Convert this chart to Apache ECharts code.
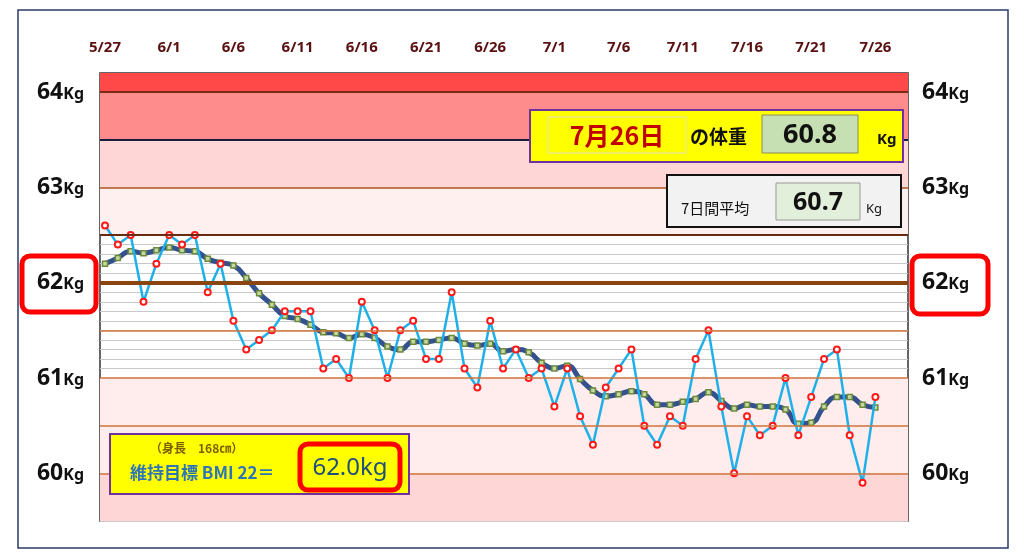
<!DOCTYPE html>
<html><head><meta charset="utf-8">
<script src="https://cdn.jsdelivr.net/npm/echarts@6/dist/echarts.min.js"></script>
<style>html,body{margin:0;padding:0;background:#fff}#c{width:1024px;height:559px}</style>
</head><body><div id="c"></div>
<script>
const dateLabels = ['5/27','6/1','6/6','6/11','6/16','6/21','6/26','7/1','7/6','7/11','7/16','7/21','7/26'];
const weights = [62.6,62.4,62.5,61.8,62.2,62.5,62.4,62.5,61.9,62.2,61.6,61.3,61.4,61.5,61.7,61.7,61.7,61.1,61.2,61.0,61.8,61.5,61.0,61.5,61.6,61.2,61.2,61.9,61.1,60.9,61.6,61.1,61.3,61.0,61.1,60.7,61.1,60.6,60.3,60.9,61.1,61.3,60.5,60.3,60.6,60.5,61.2,61.5,60.7,60.0,60.6,60.4,60.5,61.0,60.4,60.8,61.2,61.3,60.4,59.9,60.8];
const avg7 = [62.2,62.26,62.33,62.31,62.34,62.37,62.34,62.33,62.25,62.21,62.18,62.05,61.89,61.77,61.65,61.62,61.56,61.48,61.47,61.42,61.46,61.42,61.33,61.30,61.38,61.38,61.40,61.42,61.36,61.34,61.36,61.28,61.30,61.27,61.16,61.10,61.13,60.99,60.87,60.81,60.83,60.86,60.83,60.72,60.72,60.75,60.78,60.85,60.76,60.68,60.72,60.70,60.70,60.67,60.52,60.53,60.70,60.80,60.80,60.72,60.69];
const yTicks = [60,61,62,63,64];

const chart = echarts.init(document.getElementById('c'));
const rawData = weights.map((v,i)=>[i,v]);
const avgData = avg7.map((v,i)=>[i,v]);
const ylab = {formatter:v=>'{a|'+v+'}{b|Kg}', rich:{a:{fontSize:23,fontWeight:'bold',color:'#111',fontFamily:'Noto Sans'},b:{fontSize:16,fontWeight:'bold',color:'#111',fontFamily:'Noto Sans',padding:[4,0,0,0]}}};
const band = (a,b,c)=>[{yAxis:a,itemStyle:{color:c}},{yAxis:b}];
const ml = (v,c,w)=>({yAxis:v,lineStyle:{color:c,width:w,type:'solid'}});
const G = (o)=>Object.assign({z:100},o);
chart.setOption({
  animation:false,
  grid:{left:100,right:116,top:73,bottom:38,show:true,borderColor:'#333',borderWidth:1.5,backgroundColor:'transparent'},
  xAxis:{type:'value',min:-0.39,max:62.54,position:'top',splitLine:{show:false},axisLine:{show:false},axisTick:{show:false},
    axisLabel:{customValues:[0,5,10,15,20,25,30,35,40,45,50,55,60],formatter:v=>dateLabels[Math.round(v/5)],color:'#5a1010',fontSize:15,fontWeight:'bold',margin:18,fontFamily:'Noto Sans'}},
  yAxis:[
    {type:'value',min:59.5,max:64.2,interval:0.1,position:'left',axisLine:{show:false},axisTick:{show:false},
      splitLine:{show:true,lineStyle:{color:'#c8c8c8',width:1}},
      axisLabel:Object.assign({customValues:yTicks,margin:16},ylab)},
    {type:'value',min:59.5,max:64.2,position:'right',axisLine:{show:false},axisTick:{show:false},splitLine:{show:false},
      axisLabel:Object.assign({customValues:yTicks,margin:14},ylab)}
  ],
  series:[
    {type:'line',data:[],silent:true,z:-5,zlevel:0,
      markArea:{silent:true,data:[band(64,64.2,'#ff4848'),band(63.5,64,'#ff8c8c'),band(63,63.5,'#ffd6d6'),band(62.5,63,'#fff0f0'),band(60,61,'#ffecec'),band(59.5,60,'#ffd6d6')]}},
    {type:'line',data:[],silent:true,z:2,
      markLine:{silent:true,symbol:'none',label:{show:false},data:[ml(64,'#7a2a10',2),ml(63.5,'#1a1a3a',2),ml(63,'#b05020',1.5),ml(62.5,'#6a2a10',2),ml(61.5,'#d0743a',1.5),ml(61,'#d0743a',1.5),ml(60.5,'#d0743a',1.5),ml(60,'#d0743a',1.5),ml(62,'#8b4513',4)]}},
    {type:'line',data:avgData,smooth:true,z:3,lineStyle:{color:'#33508f',width:5},symbol:'rect',symbolSize:5,itemStyle:{color:'#c8d8a0',borderColor:'#6b8a3a',borderWidth:1.5}},
    {type:'line',data:rawData,z:4,lineStyle:{color:'#1fb0ea',width:2.5},symbol:'circle',symbolSize:6,itemStyle:{color:'#fff',borderColor:'#ff1a1a',borderWidth:2}}
  ],
  graphic:[
    G({type:'rect',shape:{x:18,y:10,width:990,height:538},style:{fill:'none',stroke:'#2a3a6a',lineWidth:1.5}}),
    G({type:'rect',shape:{x:22,y:256,width:74,height:56,r:8},style:{fill:'none',stroke:'#ff0000',lineWidth:5}}),
    G({type:'rect',shape:{x:912,y:256,width:76,height:58,r:8},style:{fill:'none',stroke:'#ff0000',lineWidth:5}}),
    G({type:'rect',shape:{x:530,y:110,width:373,height:52},style:{fill:'#ffff00',stroke:'#7030a0',lineWidth:2}}),
    G({type:'rect',z:101,shape:{x:548,y:117,width:138,height:36},style:{fill:'#ffff00',stroke:'#e0e0c0',lineWidth:1}}),
    G({type:'text',z:102,style:{x:617,y:135,text:'7月26日',fill:'#c00000',font:'bold 25px "Noto Sans CJK JP"',align:'center',verticalAlign:'middle'}}),
    G({type:'text',z:102,style:{x:690,y:137,text:'の体重',fill:'#111',font:'bold 19px "Noto Sans CJK JP"',verticalAlign:'middle'}}),
    G({type:'rect',z:101,shape:{x:762,y:115,width:96,height:38},style:{fill:'#c6e0b4',stroke:'#8a8a5a',lineWidth:1}}),
    G({type:'text',z:102,style:{x:810,y:135,text:'60.8',fill:'#111',font:'bold 27px "Liberation Sans Narrow", "Noto Sans"',align:'center',verticalAlign:'middle'}}),
    G({type:'text',z:102,style:{x:877,y:140,text:'Kg',fill:'#111',font:'bold 15px "Noto Sans"',verticalAlign:'middle'}}),
    G({type:'rect',shape:{x:667,y:175,width:234,height:52},style:{fill:'#f2f2f2',stroke:'#111',lineWidth:2}}),
    G({type:'text',z:102,style:{x:681,y:208,text:'7日間平均',fill:'#111',font:'15px "Noto Sans CJK JP"',verticalAlign:'middle'}}),
    G({type:'rect',z:101,shape:{x:776,y:183,width:84,height:37},style:{fill:'#e2efda',stroke:'#999',lineWidth:1}}),
    G({type:'text',z:102,style:{x:818,y:203,text:'60.7',fill:'#111',font:'bold 25px "Liberation Sans Narrow", "Noto Sans"',align:'center',verticalAlign:'middle'}}),
    G({type:'text',z:102,style:{x:866,y:209,text:'Kg',fill:'#111',font:'13px "Noto Sans"',verticalAlign:'middle'}}),
    G({type:'rect',shape:{x:110,y:434,width:299,height:60},style:{fill:'#ffff00',stroke:'#7030a0',lineWidth:2}}),
    G({type:'text',z:102,style:{x:150,y:448,text:'（身長　168㎝）',fill:'#7f6000',font:'bold 12px "Noto Sans CJK JP"',verticalAlign:'middle'}}),
    G({type:'text',z:102,style:{x:130,y:473,text:'維持目標 BMI 22＝',fill:'#2e75b6',font:'bold 17px "Noto Sans CJK JP"',verticalAlign:'middle'}}),
    G({type:'rect',z:101,shape:{x:300,y:444,width:100,height:46,r:8},style:{fill:'#ffff00',stroke:'#ff0000',lineWidth:5}}),
    G({type:'text',z:102,style:{x:350,y:468,text:'62.0kg',fill:'#1f4e79',font:'24px "Noto Sans"',align:'center',verticalAlign:'middle'}})
  ]
});
</script></body></html>
